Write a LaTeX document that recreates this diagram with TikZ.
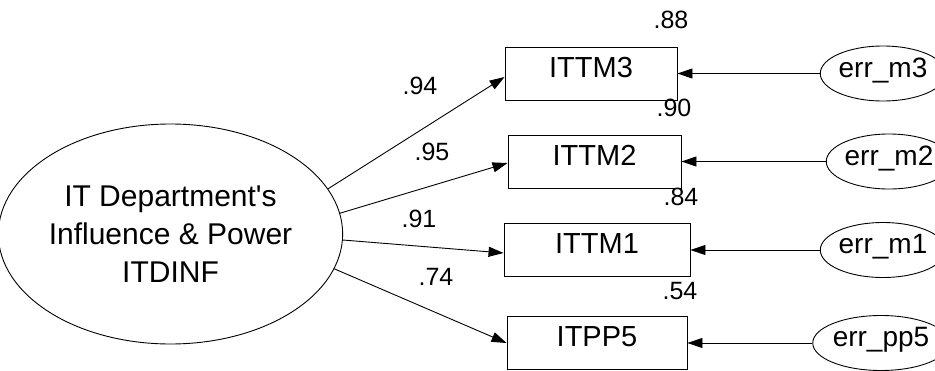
\documentclass[tikz,border=0pt]{standalone}
\usepackage{fontspec}
\setmainfont{Liberation Sans}
\usetikzlibrary{shapes.geometric,arrows.meta,calc}

\begin{document}
\begin{tikzpicture}[x=1pt,y=-1pt,line width=0.9pt,
  arr/.style={-{Triangle[length=15pt,width=10pt]}},
  obs/.style={draw,rectangle,inner sep=0pt,minimum height=53pt,
    font=\fontsize{29}{34}\selectfont,text height=0.72em,text depth=0pt},
  errnode/.style={draw,ellipse,inner sep=0pt,minimum width=114pt,minimum height=55pt,
    font=\fontsize{28}{32}\selectfont,text height=0.72em,text depth=0pt},
  coef/.style={inner sep=0pt,font=\fontsize{25}{30}\selectfont}]
\useasboundingbox (0,0) rectangle (935,370);
\clip (0,0) rectangle (935,370);

% latent factor
\node[draw,ellipse,inner sep=0pt,minimum width=321pt,minimum height=220pt,
      align=center,font=\fontsize{30}{38}\selectfont] (lat) at (170.5,234)
  {IT Department\textquotesingle s\\Influence \& Power\\ITDINF};

% indicators
\node[obs,minimum width=172pt] (m3) at (591,73.5) {ITTM3};
\node[obs,minimum width=173pt] (m2) at (594.5,161.5) {ITTM2};
\node[obs,minimum width=186pt] (m1) at (597,250) {ITTM1};
\node[obs,minimum width=180pt] (p5) at (597,343) {ITPP5};

% error terms
\node[errnode] (e3) at (883,73.5) {err\_m3};
\node[errnode] (e2) at (889,161.5) {err\_m2};
\node[errnode] (e1) at (883,250) {err\_m1};
\node[errnode] (e5) at (881,343) {err\_pp5};

% loadings
\draw[arr] (lat.16) -- ([yshift=-3.5pt]m3.west);
\draw[arr] (lat.7) -- ([yshift=-1.5pt]m2.west);
\draw[arr] (lat.-2) -- ([yshift=-3pt]m1.west);
\draw[arr] (lat.-12) -- (p5.west);

% error paths
\draw[arr] (e3.west) -- (m3.east);
\draw[arr] (e2.west) -- (m2.east);
\draw[arr] (e1.west) -- (m1.east);
\draw[arr] (e5.west) -- (p5.east);

% standardized loadings
\node[coef] (l3) at (420,86) {.94};
\node[coef] (l2) at (432,152) {.95};
\node[coef] (l1) at (419,219) {.91};
\node[coef] (l5) at (436,277) {.74};

% squared multiple correlations
\node[coef] (r3) at (671,20) {.88};
\node[coef] (r2) at (674,108) {.90};
\node[coef] (r1) at (681,197) {.84};
\node[coef] (r5) at (680,291) {.54};
\end{tikzpicture}
\end{document}
